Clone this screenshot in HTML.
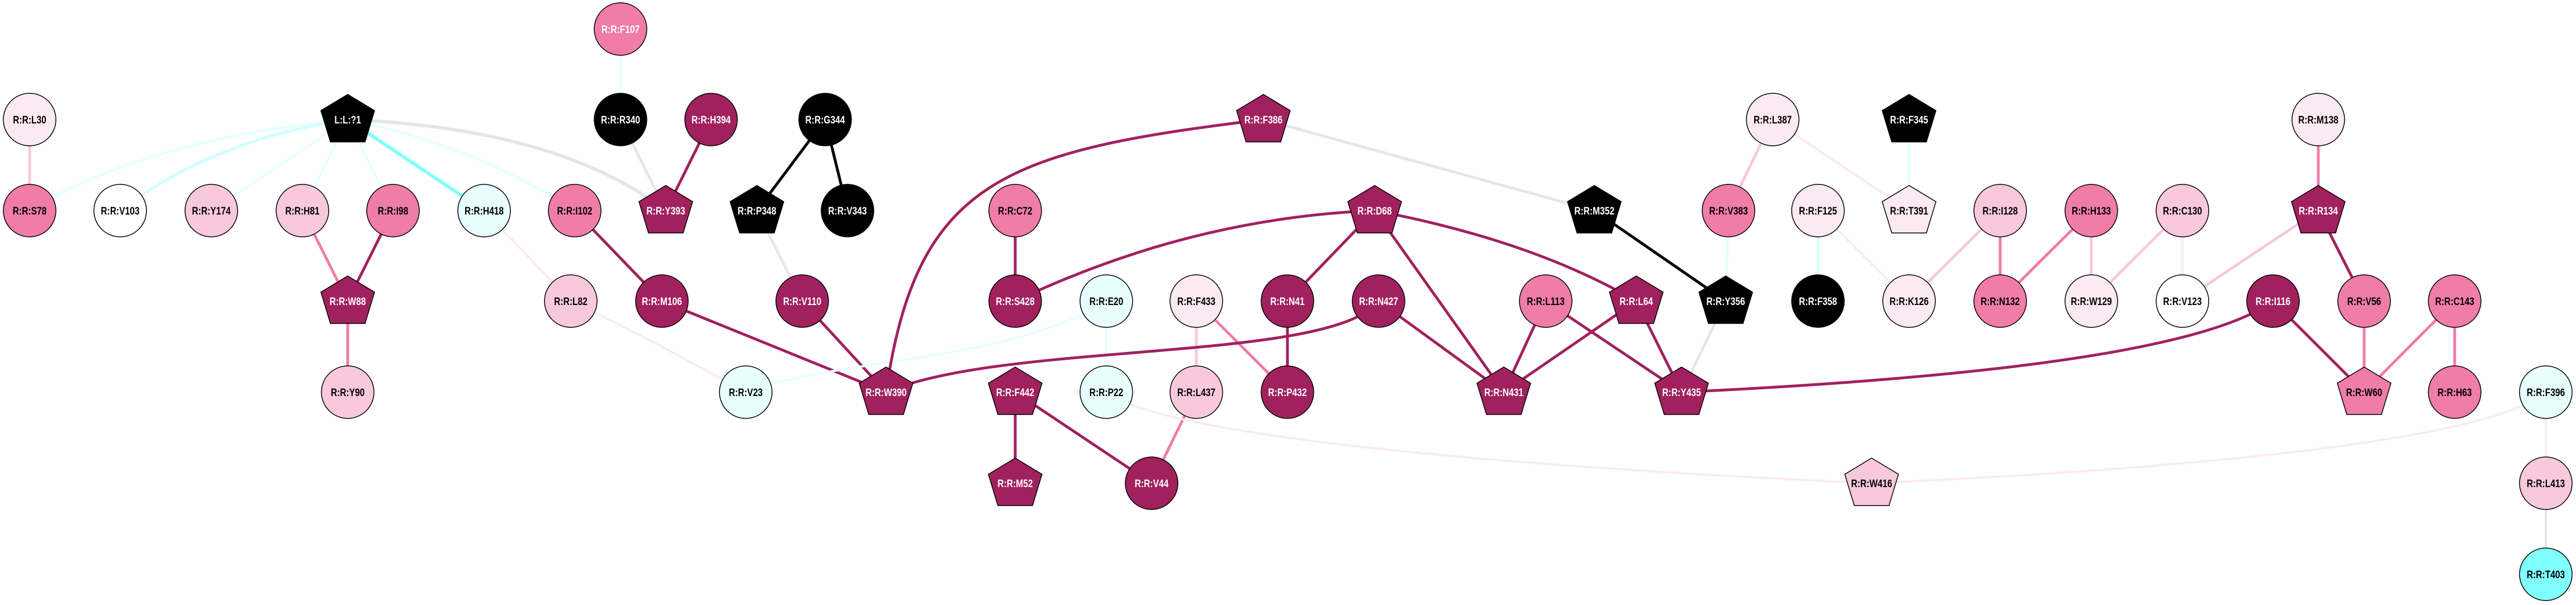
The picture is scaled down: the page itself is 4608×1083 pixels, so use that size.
<!DOCTYPE html>
<html><head><meta charset="utf-8"><style>
html,body{margin:0;padding:0;background:#fff;}
svg{display:block;}
text{font-family:"Liberation Sans",sans-serif;font-weight:bold;font-size:19px;text-anchor:middle;}
.w{fill:#fff}.b{fill:#000}
</style></head><body>
<svg width="4608" height="1083" viewBox="0 0 4608 1083" xmlns="http://www.w3.org/2000/svg">
<defs>
<polygon id="p" points="0,-45 48,-16 31,40 -31,40 -48,-16" stroke="#000" stroke-width="1.5"/>
</defs>
<g fill="none" stroke-linecap="round">
<!-- edges -->
<line x1="53" y1="214" x2="53" y2="377" stroke="#F8C8DC" stroke-width="5"/>
<line x1="1110" y1="52" x2="1110" y2="214" stroke="#E8FEFE" stroke-width="4"/>
<path d="M622,214 Q260,250 53,377" stroke="#E6FFFF" stroke-width="5"/>
<path d="M622,214 Q380,250 215,377" stroke="#D0FFFF" stroke-width="5"/>
<line x1="622" y1="214" x2="378" y2="377" stroke="#E6FFFF" stroke-width="4"/>
<line x1="622" y1="214" x2="541" y2="377" stroke="#E6FFFF" stroke-width="4"/>
<line x1="622" y1="214" x2="703" y2="377" stroke="#E6FFFF" stroke-width="4"/>
<line x1="622" y1="214" x2="866" y2="377" stroke="#80FFFF" stroke-width="6"/>
<path d="M622,214 Q850,260 1028,377" stroke="#E6FFFF" stroke-width="5"/>
<path d="M622,214 Q1000,230 1191,377" stroke="#E6E6E6" stroke-width="6"/>
<line x1="1110" y1="214" x2="1191" y2="377" stroke="#E6E6E6" stroke-width="5"/>
<line x1="1272" y1="214" x2="1191" y2="377" stroke="#A0215E" stroke-width="5"/>
<line x1="1476" y1="214" x2="1354" y2="377" stroke="#000" stroke-width="5"/>
<line x1="1476" y1="214" x2="1516" y2="377" stroke="#000" stroke-width="5"/>
<line x1="1354" y1="377" x2="1435" y2="539" stroke="#E6E6E6" stroke-width="5"/>
<line x1="541" y1="377" x2="622" y2="539" stroke="#F07CA8" stroke-width="5"/>
<line x1="703" y1="377" x2="622" y2="539" stroke="#A0215E" stroke-width="5"/>
<line x1="622" y1="539" x2="622" y2="702" stroke="#F07CA8" stroke-width="5"/>
<line x1="866" y1="377" x2="1021" y2="539" stroke="#FBEAF1" stroke-width="4"/>
<path d="M1021,539 Q1150,600 1334,702" stroke="#FBEAF1" stroke-width="4"/>
<line x1="1028" y1="377" x2="1184" y2="539" stroke="#A0215E" stroke-width="5"/>
<line x1="1184" y1="539" x2="1585" y2="702" stroke="#A0215E" stroke-width="5"/>
<line x1="1435" y1="539" x2="1585" y2="702" stroke="#A0215E" stroke-width="5"/>
<path d="M1334,702 C1500,640 1800,650 1979,539" stroke="#E8FEFE" stroke-width="4"/>
<path d="M2260,214 C1800,270 1640,320 1585,702" stroke="#A0215E" stroke-width="5"/>
<line x1="2260" y1="214" x2="2852" y2="377" stroke="#E6E6E6" stroke-width="5"/>
<line x1="2852" y1="377" x2="3087" y2="539" stroke="#000" stroke-width="5"/>
<line x1="1816" y1="377" x2="1816" y2="539" stroke="#A0215E" stroke-width="5"/>
<path d="M2459,377 Q2130,390 1816,539" stroke="#A0215E" stroke-width="5"/>
<line x1="2459" y1="377" x2="2303" y2="539" stroke="#A0215E" stroke-width="5"/>
<line x1="2459" y1="377" x2="2690" y2="702" stroke="#A0215E" stroke-width="5"/>
<path d="M2459,377 Q2740,430 2927,539" stroke="#A0215E" stroke-width="5"/>
<line x1="1979" y1="539" x2="1979" y2="702" stroke="#E8FEFE" stroke-width="4"/>
<line x1="2140" y1="539" x2="2140" y2="702" stroke="#F8C8DC" stroke-width="5"/>
<line x1="2140" y1="539" x2="2303" y2="702" stroke="#F07CA8" stroke-width="5"/>
<line x1="2303" y1="539" x2="2303" y2="702" stroke="#A0215E" stroke-width="5"/>
<path d="M2466,539 C2380,650 1800,610 1585,702" stroke="#A0215E" stroke-width="5"/>
<line x1="2466" y1="539" x2="2690" y2="702" stroke="#A0215E" stroke-width="5"/>
<line x1="2765" y1="539" x2="2690" y2="702" stroke="#A0215E" stroke-width="5"/>
<line x1="2765" y1="539" x2="3008" y2="702" stroke="#A0215E" stroke-width="5"/>
<line x1="2927" y1="539" x2="2690" y2="702" stroke="#A0215E" stroke-width="5"/>
<line x1="2927" y1="539" x2="3008" y2="702" stroke="#A0215E" stroke-width="5"/>
<line x1="3087" y1="539" x2="3008" y2="702" stroke="#E6E6E6" stroke-width="5"/>
<path d="M4066,539 Q3900,660 3008,702" stroke="#A0215E" stroke-width="5"/>
<line x1="1816" y1="702" x2="1816" y2="865" stroke="#A0215E" stroke-width="5"/>
<line x1="1816" y1="702" x2="2060" y2="865" stroke="#A0215E" stroke-width="5"/>
<line x1="2140" y1="702" x2="2060" y2="865" stroke="#F07CA8" stroke-width="5"/>
<path d="M1979,702 C2100,790 2800,840 3348,865" stroke="#FBEAF1" stroke-width="4"/>
<path d="M3348,865 C3900,840 4450,790 4554,702" stroke="#FBEAF1" stroke-width="4"/>
<line x1="3171" y1="214" x2="3092" y2="377" stroke="#F8C8DC" stroke-width="5"/>
<line x1="3171" y1="214" x2="3415" y2="377" stroke="#FBEAF1" stroke-width="4"/>
<line x1="3415" y1="214" x2="3415" y2="377" stroke="#E0FFFF" stroke-width="4"/>
<line x1="3092" y1="377" x2="3087" y2="539" stroke="#E0FFFF" stroke-width="4"/>
<line x1="3252" y1="377" x2="3252" y2="539" stroke="#D0FFFF" stroke-width="4"/>
<line x1="3252" y1="377" x2="3415" y2="539" stroke="#FBEAF1" stroke-width="4"/>
<line x1="3578" y1="377" x2="3415" y2="539" stroke="#F8C8DC" stroke-width="5"/>
<line x1="3578" y1="377" x2="3578" y2="539" stroke="#F07CA8" stroke-width="5"/>
<line x1="3741" y1="377" x2="3578" y2="539" stroke="#F07CA8" stroke-width="5"/>
<line x1="3741" y1="377" x2="3741" y2="539" stroke="#F8C8DC" stroke-width="5"/>
<line x1="3904" y1="377" x2="3741" y2="539" stroke="#F8C8DC" stroke-width="5"/>
<line x1="3904" y1="377" x2="3904" y2="539" stroke="#FBEAF1" stroke-width="4"/>
<line x1="4147" y1="377" x2="3904" y2="539" stroke="#F8C8DC" stroke-width="5"/>
<line x1="4147" y1="214" x2="4147" y2="377" stroke="#F07CA8" stroke-width="5"/>
<line x1="4147" y1="377" x2="4229" y2="539" stroke="#A0215E" stroke-width="5"/>
<line x1="4229" y1="539" x2="4229" y2="702" stroke="#F07CA8" stroke-width="5"/>
<line x1="4391" y1="539" x2="4229" y2="702" stroke="#F07CA8" stroke-width="5"/>
<line x1="4391" y1="539" x2="4391" y2="702" stroke="#F07CA8" stroke-width="5"/>
<line x1="4066" y1="539" x2="4229" y2="702" stroke="#A0215E" stroke-width="5"/>
<line x1="4554" y1="702" x2="4554" y2="865" stroke="#FBEAF1" stroke-width="4"/>
<line x1="4554" y1="865" x2="4554" y2="1028" stroke="#E6E6E6" stroke-width="4"/>
</g>
<g stroke="#000" stroke-width="1.5">
<!-- circles -->
<circle cx="1110" cy="52" r="47" fill="#F07CA8"/>
<circle cx="53" cy="214" r="47" fill="#FBEAF1"/>
<circle cx="1110" cy="214" r="47" fill="#000"/>
<circle cx="1272" cy="214" r="47" fill="#A0215E"/>
<circle cx="1476" cy="214" r="47" fill="#000"/>
<circle cx="3171" cy="214" r="47" fill="#FBEAF1"/>
<circle cx="4147" cy="214" r="47" fill="#FBEAF1"/>
<circle cx="53" cy="377" r="47" fill="#F07CA8"/>
<circle cx="215" cy="377" r="47" fill="#fff"/>
<circle cx="378" cy="377" r="47" fill="#F8C8DC"/>
<circle cx="541" cy="377" r="47" fill="#F8C8DC"/>
<circle cx="703" cy="377" r="47" fill="#F07CA8"/>
<circle cx="866" cy="377" r="47" fill="#E8FEFE"/>
<circle cx="1028" cy="377" r="47" fill="#F07CA8"/>
<circle cx="1516" cy="377" r="47" fill="#000"/>
<circle cx="1816" cy="377" r="47" fill="#F07CA8"/>
<circle cx="3092" cy="377" r="47" fill="#F07CA8"/>
<circle cx="3252" cy="377" r="47" fill="#FBEAF1"/>
<circle cx="3578" cy="377" r="47" fill="#F8C8DC"/>
<circle cx="3741" cy="377" r="47" fill="#F07CA8"/>
<circle cx="3904" cy="377" r="47" fill="#F8C8DC"/>
<circle cx="1021" cy="539" r="47" fill="#F8C8DC"/>
<circle cx="1184" cy="539" r="47" fill="#A0215E"/>
<circle cx="1435" cy="539" r="47" fill="#A0215E"/>
<circle cx="1816" cy="539" r="47" fill="#A0215E"/>
<circle cx="1979" cy="539" r="47" fill="#E8FEFE"/>
<circle cx="2140" cy="539" r="47" fill="#FBEAF1"/>
<circle cx="2303" cy="539" r="47" fill="#A0215E"/>
<circle cx="2466" cy="539" r="47" fill="#A0215E"/>
<circle cx="2765" cy="539" r="47" fill="#F07CA8"/>
<circle cx="3252" cy="539" r="47" fill="#000"/>
<circle cx="3415" cy="539" r="47" fill="#FBEAF1"/>
<circle cx="3578" cy="539" r="47" fill="#F07CA8"/>
<circle cx="3741" cy="539" r="47" fill="#FBEAF1"/>
<circle cx="3904" cy="539" r="47" fill="#fff"/>
<circle cx="4066" cy="539" r="47" fill="#A0215E"/>
<circle cx="4229" cy="539" r="47" fill="#F07CA8"/>
<circle cx="4391" cy="539" r="47" fill="#F07CA8"/>
<circle cx="622" cy="702" r="47" fill="#F8C8DC"/>
<circle cx="1334" cy="702" r="47" fill="#E8FEFE"/>
<circle cx="1979" cy="702" r="47" fill="#E8FEFE"/>
<circle cx="2140" cy="702" r="47" fill="#F8C8DC"/>
<circle cx="2303" cy="702" r="47" fill="#A0215E"/>
<circle cx="4391" cy="702" r="47" fill="#F07CA8"/>
<circle cx="4554" cy="702" r="47" fill="#E8FEFE"/>
<circle cx="2060" cy="865" r="47" fill="#A0215E"/>
<circle cx="4554" cy="865" r="47" fill="#F8C8DC"/>
<circle cx="4554" cy="1028" r="47" fill="#80FFFF"/>
</g>
<!-- pentagons -->
<use href="#p" x="622" y="214" fill="#000"/>
<use href="#p" x="2260" y="214" fill="#A0215E"/>
<use href="#p" x="3415" y="214" fill="#000"/>
<use href="#p" x="1191" y="377" fill="#A0215E"/>
<use href="#p" x="1354" y="377" fill="#000"/>
<use href="#p" x="2459" y="377" fill="#A0215E"/>
<use href="#p" x="2852" y="377" fill="#000"/>
<use href="#p" x="3415" y="377" fill="#FBEAF1"/>
<use href="#p" x="4147" y="377" fill="#A0215E"/>
<use href="#p" x="622" y="539" fill="#A0215E"/>
<use href="#p" x="2927" y="539" fill="#A0215E"/>
<use href="#p" x="3087" y="539" fill="#000"/>
<use href="#p" x="1585" y="702" fill="#A0215E"/>
<use href="#p" x="1816" y="702" fill="#A0215E"/>
<use href="#p" x="2690" y="702" fill="#A0215E"/>
<use href="#p" x="3008" y="702" fill="#A0215E"/>
<use href="#p" x="4229" y="702" fill="#F07CA8"/>
<use href="#p" x="1816" y="865" fill="#A0215E"/>
<use href="#p" x="3348" y="865" fill="#F8C8DC"/>
<!-- labels -->
<g>
<text class="w" transform="translate(1110,59) scale(0.82,1)">R:R:F107</text>
<text class="b" transform="translate(53,221) scale(0.82,1)">R:R:L30</text>
<text class="w" transform="translate(622,221) scale(0.82,1)">L:L:?1</text>
<text class="w" transform="translate(1110,221) scale(0.82,1)">R:R:R340</text>
<text class="w" transform="translate(1272,221) scale(0.82,1)">R:R:H394</text>
<text class="w" transform="translate(1476,221) scale(0.82,1)">R:R:G344</text>
<text class="w" transform="translate(2260,221) scale(0.82,1)">R:R:F386</text>
<text class="b" transform="translate(3171,221) scale(0.82,1)">R:R:L387</text>
<text class="w" transform="translate(3415,221) scale(0.82,1)">R:R:F345</text>
<text class="b" transform="translate(4147,221) scale(0.82,1)">R:R:M138</text>
<text class="b" transform="translate(53,384) scale(0.82,1)">R:R:S78</text>
<text class="b" transform="translate(215,384) scale(0.82,1)">R:R:V103</text>
<text class="b" transform="translate(378,384) scale(0.82,1)">R:R:Y174</text>
<text class="b" transform="translate(541,384) scale(0.82,1)">R:R:H81</text>
<text class="b" transform="translate(703,384) scale(0.82,1)">R:R:I98</text>
<text class="b" transform="translate(866,384) scale(0.82,1)">R:R:H418</text>
<text class="b" transform="translate(1028,384) scale(0.82,1)">R:R:I102</text>
<text class="w" transform="translate(1191,384) scale(0.82,1)">R:R:Y393</text>
<text class="w" transform="translate(1354,384) scale(0.82,1)">R:R:P348</text>
<text class="w" transform="translate(1516,384) scale(0.82,1)">R:R:V343</text>
<text class="b" transform="translate(1816,384) scale(0.82,1)">R:R:C72</text>
<text class="w" transform="translate(2459,384) scale(0.82,1)">R:R:D68</text>
<text class="w" transform="translate(2852,384) scale(0.82,1)">R:R:M352</text>
<text class="b" transform="translate(3092,384) scale(0.82,1)">R:R:V383</text>
<text class="b" transform="translate(3252,384) scale(0.82,1)">R:R:F125</text>
<text class="b" transform="translate(3415,384) scale(0.82,1)">R:R:T391</text>
<text class="b" transform="translate(3578,384) scale(0.82,1)">R:R:I128</text>
<text class="b" transform="translate(3741,384) scale(0.82,1)">R:R:H133</text>
<text class="b" transform="translate(3904,384) scale(0.82,1)">R:R:C130</text>
<text class="w" transform="translate(4147,384) scale(0.82,1)">R:R:R134</text>
<text class="w" transform="translate(622,546) scale(0.82,1)">R:R:W88</text>
<text class="b" transform="translate(1021,546) scale(0.82,1)">R:R:L82</text>
<text class="w" transform="translate(1184,546) scale(0.82,1)">R:R:M106</text>
<text class="w" transform="translate(1435,546) scale(0.82,1)">R:R:V110</text>
<text class="w" transform="translate(1816,546) scale(0.82,1)">R:R:S428</text>
<text class="b" transform="translate(1979,546) scale(0.82,1)">R:R:E20</text>
<text class="b" transform="translate(2140,546) scale(0.82,1)">R:R:F433</text>
<text class="w" transform="translate(2303,546) scale(0.82,1)">R:R:N41</text>
<text class="w" transform="translate(2466,546) scale(0.82,1)">R:R:N427</text>
<text class="b" transform="translate(2765,546) scale(0.82,1)">R:R:L113</text>
<text class="w" transform="translate(2927,546) scale(0.82,1)">R:R:L64</text>
<text class="w" transform="translate(3087,546) scale(0.82,1)">R:R:Y356</text>
<text class="w" transform="translate(3252,546) scale(0.82,1)">R:R:F358</text>
<text class="b" transform="translate(3415,546) scale(0.82,1)">R:R:K126</text>
<text class="b" transform="translate(3578,546) scale(0.82,1)">R:R:N132</text>
<text class="b" transform="translate(3741,546) scale(0.82,1)">R:R:W129</text>
<text class="b" transform="translate(3904,546) scale(0.82,1)">R:R:V123</text>
<text class="w" transform="translate(4066,546) scale(0.82,1)">R:R:I116</text>
<text class="b" transform="translate(4229,546) scale(0.82,1)">R:R:V56</text>
<text class="b" transform="translate(4391,546) scale(0.82,1)">R:R:C143</text>
<text class="b" transform="translate(622,709) scale(0.82,1)">R:R:Y90</text>
<text class="b" transform="translate(1334,709) scale(0.82,1)">R:R:V23</text>
<text class="w" transform="translate(1585,709) scale(0.82,1)">R:R:W390</text>
<text class="w" transform="translate(1816,709) scale(0.82,1)">R:R:F442</text>
<text class="b" transform="translate(1979,709) scale(0.82,1)">R:R:P22</text>
<text class="b" transform="translate(2140,709) scale(0.82,1)">R:R:L437</text>
<text class="w" transform="translate(2303,709) scale(0.82,1)">R:R:P432</text>
<text class="w" transform="translate(2690,709) scale(0.82,1)">R:R:N431</text>
<text class="w" transform="translate(3008,709) scale(0.82,1)">R:R:Y435</text>
<text class="b" transform="translate(4229,709) scale(0.82,1)">R:R:W60</text>
<text class="b" transform="translate(4391,709) scale(0.82,1)">R:R:H63</text>
<text class="b" transform="translate(4554,709) scale(0.82,1)">R:R:F396</text>
<text class="w" transform="translate(1816,872) scale(0.82,1)">R:R:M52</text>
<text class="w" transform="translate(2060,872) scale(0.82,1)">R:R:V44</text>
<text class="b" transform="translate(3348,872) scale(0.82,1)">R:R:W416</text>
<text class="b" transform="translate(4554,872) scale(0.82,1)">R:R:L413</text>
<text class="b" transform="translate(4554,1035) scale(0.82,1)">R:R:T403</text>
</g>
</svg>
</body></html>
